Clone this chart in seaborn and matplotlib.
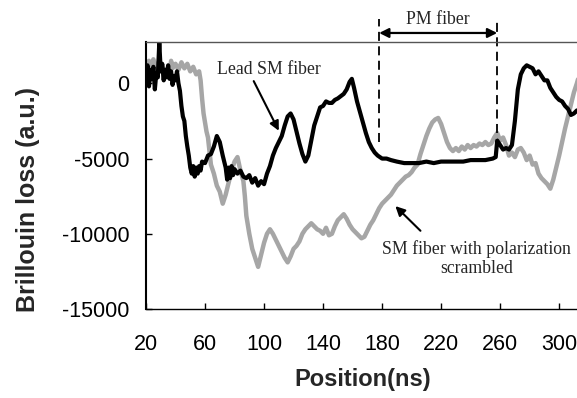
import matplotlib
matplotlib.use("Agg")
import matplotlib.pyplot as plt
import seaborn as sns
import pandas as pd

# ---------------- data ----------------
lead_x = [20, 21, 22, 23, 24, 25, 26, 27, 28, 29, 30, 31, 32, 33, 34, 35, 36, 37, 38, 39,
          40, 41, 42, 43, 44, 45, 46, 47, 48, 49, 50, 51, 52, 53, 54, 55, 56, 57, 58, 60,
          62, 64, 66, 68, 70, 72, 74, 75, 76, 77, 78, 79, 80, 82, 84, 86, 88, 90, 92, 94,
          96, 98, 100, 102, 104, 106, 108, 110, 112, 114, 116, 118, 120, 122, 124, 126, 128, 130, 132, 134,
          136, 138, 140, 142, 144, 146, 148, 150, 152, 154, 156, 158, 159.5, 161, 163, 165, 167, 169, 171, 173,
          175, 177, 180, 183, 186, 190, 195, 200, 205, 210, 215, 220, 225, 230, 235, 240, 245, 250, 255, 257,
          258, 260, 262, 264, 266, 268, 270, 272, 274, 276, 278, 280, 282, 284, 286, 288, 290, 292, 294, 296,
          298, 300, 302, 304, 306, 308, 310, 312, 314, 316]
lead_y = [500, 1200, -200, 900, 300, 1100, -400, 700, 400, 2700, 800, 1300, 200, 900, 400, 1200, 300, 800, -100, 500,
          200, 800, 0, -500, -1500, -2200, -2500, -3500, -4200, -4800, -5600, -6000, -5500, -6200, -5600, -6000, -5500, -5800, -5200, -5300,
          -4800, -4700, -4200, -3500, -3900, -4800, -5600, -6400, -5600, -6300, -5500, -6100, -5700, -6000, -5800, -6200, -6300, -6100, -6600, -6300,
          -6800, -6500, -6700, -6000, -5500, -4800, -4300, -3900, -3500, -2800, -2200, -2000, -2400, -3200, -4000, -4700, -5200, -4800, -3800, -2800,
          -2200, -1600, -1500, -1200, -1300, -1300, -1100, -1000, -850, -700, -400, 100, 300, -300, -1200, -1900, -2600, -3300, -3900, -4300,
          -4600, -4800, -5000, -5000, -5100, -5200, -5300, -5300, -5300, -5200, -5300, -5200, -5200, -5200, -5200, -5100, -5100, -5100, -5000, -4900,
          -3800, -4100, -4400, -4300, -4400, -4100, -2500, -400, 600, 1000, 1200, 1100, 1000, 600, 800, 500, 200, 200, -300, -600,
          -900, -1100, -1200, -1500, -1700, -2100, -2000, -1800, -2000, -1800]

scr_x = [20, 21, 22, 23, 24, 25, 26, 27, 28, 29, 30, 31, 32, 33, 34, 35, 36, 37, 38, 40,
         42, 44, 46, 48, 50, 52, 54, 56, 57, 58, 59, 60, 61, 62, 63, 64, 66, 68, 70, 72,
         74, 76, 78, 80, 82, 84, 86, 87, 88, 90, 92, 94, 96, 98, 100, 102, 104, 106, 108, 110,
         112, 114, 116, 118, 120, 122, 124, 126, 128, 130, 132, 134, 136, 138, 140, 142, 144, 146, 148, 150,
         152, 154, 156, 158, 160, 162, 164, 166, 168, 170, 172, 174, 176, 178, 180, 182, 184, 186, 188, 190,
         192, 194, 196, 198, 200, 202, 204, 206, 208, 210, 212, 214, 216, 218, 220, 222, 224, 226, 228, 230,
         232, 234, 236, 238, 240, 242, 244, 246, 248, 250, 252, 254, 256, 258, 260, 262, 264, 266, 268, 270,
         272, 274, 276, 278, 280, 282, 284, 286, 288, 290, 292, 294, 296, 298, 300, 302, 304, 306, 308, 310,
         312, 314, 316]
scr_y = [1400, 600, 1500, 200, 1100, 1600, 500, 1300, 900, 1700, 800, 1200, 300, 900, 600, 1100, 700, 1500, 1000, 1300,
         900, 1400, 1000, 1300, 800, 1100, 600, 800, 200, -1000, -2000, -2600, -3200, -3600, -4500, -5400, -6000, -6800, -7200, -8000,
         -7400, -6600, -5800, -5200, -4900, -5800, -6500, -7500, -8800, -10000, -11000, -11600, -12200, -11400, -10600, -10000, -9700, -10000, -10400, -10800,
         -11200, -11600, -11900, -11500, -11000, -10800, -10500, -10000, -9700, -9500, -9300, -9500, -9700, -9800, -10000, -9600, -10100, -10000, -9500, -9100,
         -8900, -8700, -9000, -9400, -9700, -9900, -10100, -10300, -10200, -9800, -9400, -9100, -8700, -8300, -8000, -7800, -7600, -7400, -7100, -6800,
         -6600, -6400, -6200, -6100, -5900, -5600, -5400, -4700, -4100, -3500, -3000, -2600, -2400, -2300, -2700, -3300, -3900, -4300, -4500, -4300,
         -4500, -4200, -4400, -4100, -4300, -4100, -4200, -4000, -4100, -3900, -4100, -4000, -3600, -3300, -3800, -3600, -4100, -4800, -4600, -4900,
         -4400, -4300, -4600, -5100, -4800, -5400, -5300, -6000, -6300, -6500, -6700, -7000, -6400, -5600, -4800, -3900, -3000, -2200, -1400, -600,
         0, 700, 1200]

x_ticks = [20, 60, 100, 140, 180, 220, 260, 300]
y_ticks = [0, -5000, -10000, -15000]
pm_start, pm_end = 178, 258

# ---------------- plot ----------------
sns.set_theme(style="white")
plt.rcParams['font.family'] = ['Liberation Sans', 'DejaVu Sans']
plt.rcParams['axes.unicode_minus'] = False

fig = plt.figure(figsize=(5.77, 3.98), dpi=100)
ax = fig.add_axes([146/577, 1 - 309/398, 1 - 146/577 + 0.01, (309 - 42)/398])

df_scr = pd.DataFrame({"x": scr_x, "y": scr_y})
df_lead = pd.DataFrame({"x": lead_x, "y": lead_y})
sns.lineplot(data=df_scr, x="x", y="y", ax=ax, color="#a6a6a6", lw=3.2, estimator=None, sort=False)
sns.lineplot(data=df_lead, x="x", y="y", ax=ax, color="black", lw=3.0, estimator=None, sort=False)

ax.set_xlim(20, 316)
ax.set_ylim(-15000, 2750)
ax.set_xticks(x_ticks)
ax.set_yticks(y_ticks)
ax.tick_params(axis='both', direction='in', length=4, width=1, color='black',
               labelsize=15.5, colors='black', bottom=True, left=True)
ax.tick_params(axis='x', pad=18)
ax.tick_params(axis='y', pad=12)
for s in ['left', 'bottom', 'top']:
    ax.spines[s].set_color('black')
    ax.spines[s].set_linewidth(1.0)
ax.spines['left'].set_linewidth(1.5)
ax.spines['top'].set_color('#555555')
ax.spines['right'].set_visible(False)

ax.set_xlabel("Position(ns)", fontsize=17, fontweight='bold')
ax.set_ylabel("Brillouin loss (a.u.)", fontsize=18, fontweight='bold')
ax.xaxis.set_label_coords((363 - 146) / (577 - 146 + 5.77), -(368 - 309) / 267)
ax.yaxis.set_label_coords(-(146 - 40) / 437, 0.41)

serif = ['Liberation Serif', 'DejaVu Serif']
fs_ann = 12.8
# PM fiber markers
ax.plot([pm_start, pm_start], [-3900, 4300], ls=(0, (5, 3)), color='black', lw=1.3, clip_on=False)
ax.plot([pm_end, pm_end], [-3300, 4300], ls=(0, (5, 3)), color='black', lw=1.3, clip_on=False)
ax.annotate('', xy=(pm_start, 3350), xytext=(pm_end, 3350),
            arrowprops=dict(arrowstyle='<|-|>', color='black', lw=1.6, shrinkA=0, shrinkB=0,
                            mutation_scale=14),
            annotation_clip=False)
ax.text((pm_start + pm_end) / 2, 4250, "PM fiber", family=serif, fontsize=fs_ann,
        ha='center', va='center', clip_on=False)

# Lead SM fiber label
ax.text(103.5, 900, "Lead SM fiber", family=serif, fontsize=fs_ann, ha='center', va='center')
ax.annotate('', xy=(110, -3150), xytext=(93, 150),
            arrowprops=dict(arrowstyle='-|>', color='black', lw=1.5, shrinkA=0, shrinkB=0,
                            mutation_scale=14))

# scrambled label
ax.text(244, -11650, "SM fiber with polarization\nscrambled", family=serif, fontsize=fs_ann,
        ha='center', va='center', linespacing=1.15)
ax.annotate('', xy=(189, -8160), xytext=(206, -9800),
            arrowprops=dict(arrowstyle='-|>', color='black', lw=1.5, shrinkA=0, shrinkB=0,
                            mutation_scale=14))

fig.savefig("out.png", dpi=100)
